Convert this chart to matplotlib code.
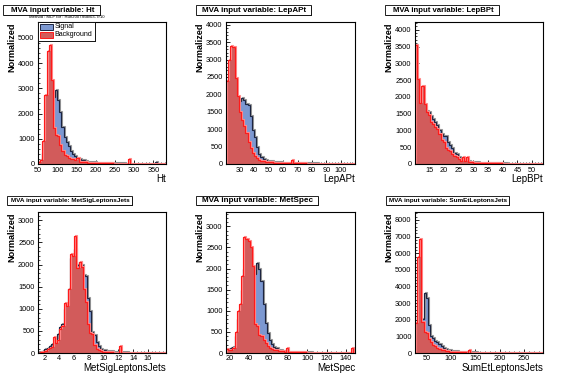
import numpy as np
import matplotlib
matplotlib.use('Agg')
import matplotlib.pyplot as plt
from matplotlib.patches import Rectangle
from matplotlib.ticker import FixedLocator, MultipleLocator
import matplotlib.transforms as mtransforms

plt.rcParams['font.family'] = ['Liberation Sans', 'DejaVu Sans']

# ---------------- data (60 bins per variable) ----------------
variables = ['Ht', 'LepAPt', 'LepBPt', 'MetSigLeptonsJets', 'MetSpec', 'SumEtLeptonsJets']
x_ranges = [(50, 383), (20.3, 109.8), (10.1, 53.7), (1.1, 18.45), (16, 149.3), (26.1, 288.9)]
y_max = [5630, 4080, 4230, 3190, 3340, 8480]

ht_bkg = [60, 150, 900, 2750, 4500, 4700, 3330, 1420, 1160, 1100,
          760, 500, 370, 300, 240, 200, 180, 160, 220, 90,
          80, 70, 60, 50, 45, 40, 40, 35, 30, 30,
          25, 25, 20, 20, 20, 15, 15, 15, 15, 10,
          10, 10, 180, 10, 10, 10, 10, 8, 8, 8,
          8, 8, 5, 5, 5, 5, 5, 5, 5, 5]
ht_sig = [80, 150, 450, 900, 1400, 1800, 2300, 2650, 2930, 2550,
          2050, 1450, 1080, 870, 720, 520, 390, 310, 250, 200,
          170, 140, 110, 90, 80, 70, 60, 55, 50, 45,
          40, 40, 35, 30, 30, 25, 25, 20, 20, 20,
          20, 15, 15, 15, 15, 15, 10, 10, 10, 10,
          10, 10, 10, 10, 10, 60, 10, 8, 8, 8]

lepa_bkg = [2390, 3000, 3400, 3350, 2470, 1950, 1500, 1250, 1100, 880,
            620, 450, 310, 230, 160, 120, 100, 80, 70, 60,
            50, 45, 40, 35, 30, 30, 25, 25, 20, 20,
            110, 20, 15, 15, 15, 15, 15, 10, 10, 10,
            10, 10, 10, 10, 10, 8, 8, 8, 8, 8,
            8, 8, 5, 5, 5, 5, 5, 5, 5, 5]
lepa_sig = [900, 1200, 1400, 1550, 1650, 1750, 1800, 1890, 1850, 1720,
            1700, 1370, 980, 790, 500, 300, 200, 150, 120, 100,
            85, 75, 65, 55, 50, 45, 40, 35, 30, 30,
            25, 25, 25, 20, 20, 20, 20, 15, 15, 15,
            15, 15, 15, 10, 10, 10, 10, 10, 10, 10,
            10, 10, 10, 10, 8, 8, 8, 8, 8, 8]

lepb_bkg = [3550, 2520, 1820, 2330, 1780, 1560, 1450, 1250, 1200, 1100,
            1050, 900, 720, 650, 480, 420, 380, 300, 250, 220,
            150, 100, 200, 80, 200, 60, 70, 40, 40, 35,
            30, 30, 25, 25, 20, 20, 20, 15, 15, 15,
            15, 10, 10, 10, 10, 10, 10, 10, 8, 8,
            8, 8, 8, 5, 5, 5, 5, 5, 5, 5]
lepb_sig = [2900, 2400, 1900, 1950, 1700, 1580, 1550, 1420, 1350, 1250,
            1150, 1000, 900, 830, 830, 650, 560, 480, 330, 300,
            220, 180, 120, 100, 90, 80, 70, 60, 50, 45,
            40, 35, 30, 30, 25, 25, 20, 20, 20, 15,
            15, 15, 15, 10, 10, 10, 10, 10, 10, 10,
            8, 8, 8, 8, 8, 8, 5, 5, 5, 5]

metsig_bkg = [10, 20, 30, 50, 90, 120, 140, 360, 230, 300,
              550, 620, 1120, 1070, 1450, 2230, 2200, 2650, 1930, 2070,
              1950, 1450, 1150, 650, 450, 420, 170, 100, 60, 40,
              30, 25, 20, 15, 15, 10, 10, 10, 160, 10,
              10, 8, 8, 8, 8, 5, 5, 5, 5, 5,
              5, 5, 5, 5, 5, 5, 5, 5, 5, 5]
metsig_sig = [20, 30, 50, 80, 120, 160, 200, 230, 300, 420,
              580, 650, 1000, 1100, 1450, 2150, 2150, 2350, 2000, 2050,
              2000, 1760, 1740, 1250, 950, 480, 400, 250, 160, 100,
              70, 60, 50, 40, 35, 30, 25, 20, 20, 15,
              15, 15, 10, 10, 10, 10, 10, 8, 8, 8,
              8, 8, 5, 5, 5, 5, 5, 5, 5, 5]

metspec_bkg = [100, 70, 70, 120, 500, 1000, 1150, 1820, 2750, 2700,
               2660, 2520, 2050, 690, 650, 420, 400, 300, 230, 170,
               130, 100, 80, 60, 50, 40, 40, 30, 130, 25,
               20, 20, 20, 15, 15, 15, 15, 10, 10, 10,
               10, 10, 10, 10, 8, 8, 8, 8, 8, 8,
               5, 5, 5, 5, 5, 5, 5, 5, 130, 5]
metspec_sig = [60, 100, 120, 150, 400, 800, 1000, 1500, 2000, 2300,
               2400, 2350, 1700, 1870, 2140, 1980, 1700, 1150, 720, 480,
               300, 210, 150, 110, 80, 60, 50, 40, 35, 30,
               30, 25, 25, 20, 20, 20, 15, 15, 15, 15,
               10, 10, 10, 10, 10, 10, 10, 8, 8, 8,
               8, 8, 8, 5, 5, 5, 5, 5, 5, 5]

sumet_bkg = [1800, 5800, 6850, 1850, 1250, 1200, 850, 650, 500, 420,
             330, 260, 200, 160, 130, 100, 90, 80, 70, 60,
             50, 45, 40, 35, 30, 180, 30, 25, 25, 20,
             20, 20, 15, 15, 15, 15, 10, 10, 10, 10,
             10, 10, 10, 10, 8, 8, 8, 8, 8, 8,
             8, 5, 5, 5, 5, 5, 5, 5, 5, 5]
sumet_sig = [1000, 2300, 2700, 2050, 3600, 3300, 1680, 1050, 880, 740,
             640, 540, 400, 300, 250, 200, 170, 140, 120, 100,
             90, 80, 70, 60, 55, 50, 45, 40, 35, 30,
             30, 25, 25, 20, 20, 20, 20, 15, 15, 15,
             15, 15, 10, 10, 10, 10, 10, 10, 10, 10,
             8, 8, 8, 8, 8, 8, 8, 8, 8, 8]

signal_values = [ht_sig, lepa_sig, lepb_sig, metsig_sig, metspec_sig, sumet_sig]
background_values = [ht_bkg, lepa_bkg, lepb_bkg, metsig_bkg, metspec_bkg, sumet_bkg]

x_ticks = [[50, 100, 150, 200, 250, 300, 350],
           [30, 40, 50, 60, 70, 80, 90, 100],
           [15, 20, 25, 30, 35, 40, 45, 50],
           [2, 4, 6, 8, 10, 12, 14, 16],
           [20, 40, 60, 80, 100, 120, 140],
           [50, 100, 150, 200, 250]]
x_minor = [10, 2, 1, 0.5, 5, 10]
y_major = [1000, 500, 500, 500, 500, 1000]
y_minor = [200, 100, 100, 100, 100, 200]

titles = ['MVA input variable: ' + v for v in variables]
subtitle = 'Method : MLP for : Run2007Stdv03-Tr10'
legend_labels = ['Signal', 'Background']

# ---------------- layout (pixels) ----------------
W, H = 567, 379
fig = plt.figure(figsize=(W / 100, H / 100), dpi=100)
fig.patch.set_facecolor('white')

def fx(x):
    return x / W

def fy(y):
    return 1 - y / H

axes_px = [(38, 22, 166, 164), (226, 22, 355, 164), (415, 22, 543, 164),
           (38, 212, 166, 353), (226, 212, 355, 353), (415, 212, 543, 353)]
title_px = [(3, 5, 100, 15), (196, 5, 311, 15), (385, 5, 499, 15),
            (7, 196, 132, 205), (196, 196, 318, 205), (386, 196, 509, 205)]
title_w = [84, 106, 102, 120, 112, 119]

SIG_FILL = '#7c98d1'
SIG_LINE = '#1c2440'
BKG_FILL = '#d25b5b'
BKG_LINE = '#ff1a1a'


def rect_px(x0, y0, x1, y1, **kw):
    r = Rectangle((fx(x0), fy(y1)), fx(x1) - fx(x0), fy(y0) - fy(y1),
                  transform=fig.transFigure, **kw)
    fig.add_artist(r)
    return r


fig.canvas.draw()
renderer = fig.canvas.get_renderer()


def fit_text(x, y, s, target, ha='center', **kw):
    t = fig.text(fx(x), fy(y), s, fontsize=6, ha=ha, va='center', **kw)
    w = t.get_window_extent(renderer).width
    t.set_fontsize(6 * target / w)
    return t


for i in range(6):
    x0, y0, x1, y1 = axes_px[i]
    ax = fig.add_axes([fx(x0), fy(y1), fx(x1) - fx(x0), fy(y0) - fy(y1)])
    lo, hi = x_ranges[i]
    sig = np.array(signal_values[i], dtype=float)
    bkg = np.array(background_values[i], dtype=float)
    edges = np.linspace(lo, hi, len(sig) + 1)

    shift = mtransforms.offset_copy(ax.transData, fig=fig, x=1, y=1, units='dots')
    ax.stairs(sig, edges, fill=True, facecolor=SIG_FILL, edgecolor='none', zorder=1)
    ax.stairs(sig, edges, color='#9a9a9a', lw=0.8, transform=shift, zorder=2)
    ax.stairs(sig, edges, color=SIG_LINE, lw=0.85, zorder=3)
    ax.stairs(bkg, edges, fill=True, facecolor=BKG_FILL, edgecolor='none', zorder=4)
    ax.stairs(bkg, edges, color='#ff8c8c', lw=0.8, transform=shift, zorder=5)
    ax.stairs(bkg, edges, color=BKG_LINE, lw=0.85, zorder=6)

    ax.set_xlim(lo, hi)
    ax.set_ylim(0, y_max[i])
    ax.xaxis.set_major_locator(FixedLocator(x_ticks[i]))
    ax.xaxis.set_minor_locator(MultipleLocator(x_minor[i]))
    ax.yaxis.set_major_locator(MultipleLocator(y_major[i]))
    ax.yaxis.set_minor_locator(MultipleLocator(y_minor[i]))
    ax.tick_params(axis='both', which='major', direction='in', length=3.2, width=0.6,
                   labelsize=5.3, top=False, right=False, color='black')
    ax.tick_params(axis='both', which='minor', direction='in', length=1.6, width=0.5,
                   top=False, right=False)
    ax.tick_params(axis='y', which='major', pad=2.5)
    ax.tick_params(axis='x', which='major', pad=1.8)
    for sp in ax.spines.values():
        sp.set_linewidth(0.8)
        sp.set_color('black')
        sp.set_zorder(10)
    ax.set_facecolor('white')

    ax.annotate(variables[i], xy=(1, 0), xycoords='axes fraction', xytext=(0, -15),
                textcoords='offset pixels', ha='right', va='center', fontsize=7)
    ax.annotate('Normalized', xy=(0, 1), xycoords='axes fraction', xytext=(-26, 0),
                textcoords='offset pixels', ha='center', va='top', rotation=90,
                fontsize=6.6, fontweight='bold')

    # title box
    bx0, by0, bx1, by1 = title_px[i]
    rect_px(bx0 + 1, by0 + 1, bx1 + 1, by1 + 1, facecolor='#333333', edgecolor='none', zorder=20)
    rect_px(bx0, by0, bx1, by1, facecolor='white', edgecolor='black', lw=0.6, zorder=21)
    tt = fit_text((bx0 + bx1) / 2 + 1, (by0 + by1) / 2, titles[i], title_w[i],
                  fontweight='bold')
    tt.set_zorder(22)

# subtitle under first title
st = fit_text(67, 17.5, subtitle, 77)
st.set_zorder(22)

# legend in first panel
rect_px(39, 23, 96, 42, facecolor='#333333', edgecolor='none', zorder=30)
rect_px(38, 22, 95, 41, facecolor='white', edgecolor='black', lw=0.6, zorder=31)
rect_px(40, 23.5, 53, 29.5, facecolor=SIG_FILL, edgecolor=SIG_LINE, lw=0.7, zorder=32)
rect_px(40, 31.5, 53, 37.5, facecolor=BKG_FILL, edgecolor=BKG_LINE, lw=0.7, zorder=32)
fig.text(fx(54.5), fy(26.5), legend_labels[0], fontsize=5.1, ha='left', va='center', zorder=33)
fig.text(fx(54.5), fy(34.5), legend_labels[1], fontsize=5.1, ha='left', va='center', zorder=33)

fig.savefig('out.png', dpi=100, facecolor='white')
